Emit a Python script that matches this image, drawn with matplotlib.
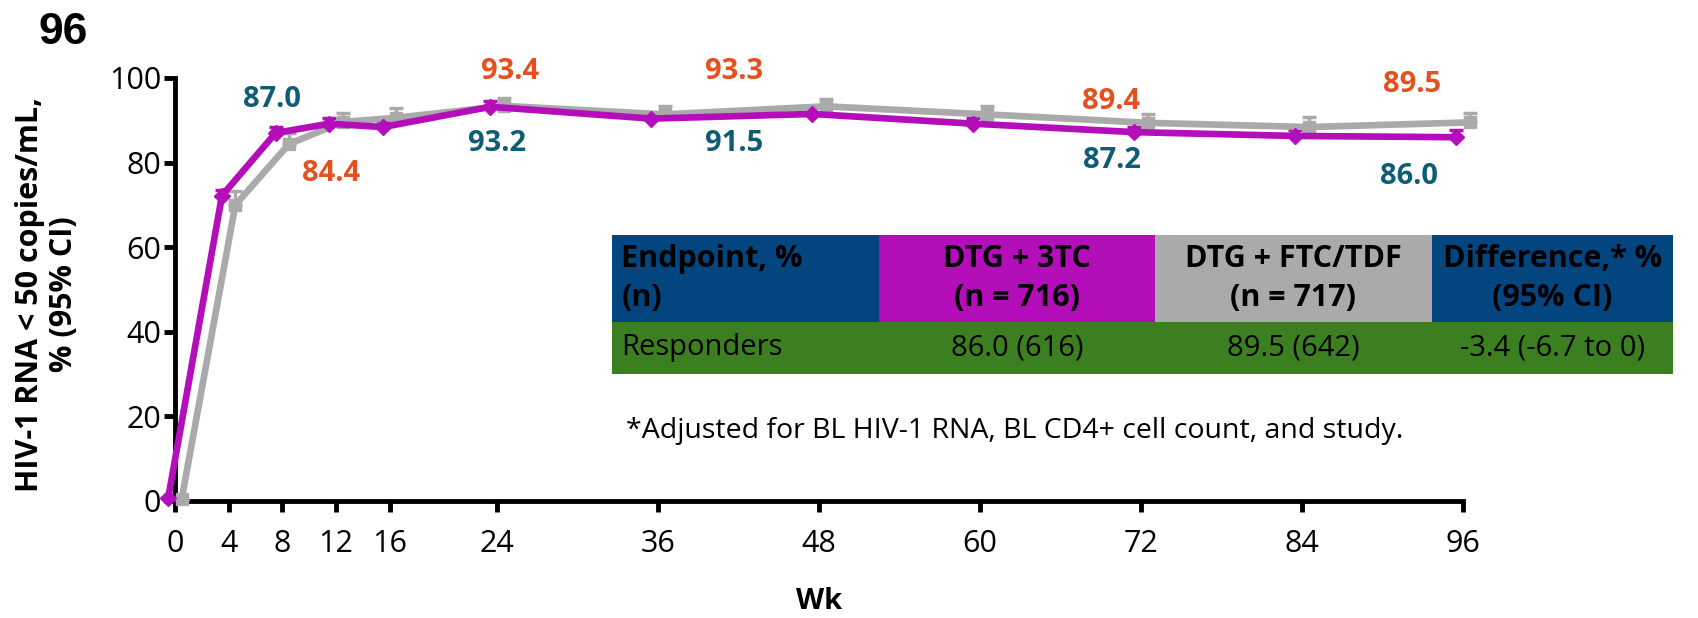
import numpy as np
import matplotlib
matplotlib.use("Agg")
from matplotlib import pyplot as plt

weeks = [0, 4, 8, 12, 16, 24, 36, 48, 60, 72, 84, 96]
dtg_3tc = [0.8, 72.2, 87.0, 89.2, 88.4, 93.2, 90.4, 91.5, 89.2, 87.2, 86.3, 86.0]
dtg_3tc_ci = [0.0, 1.3, 1.3, 1.3, 1.3, 1.3, 1.3, 1.3, 1.3, 1.3, 1.3, 1.6]
dtg_ftc = [0.5, 70.0, 84.4, 89.6, 90.6, 93.4, 91.4, 93.3, 91.4, 89.4, 88.4, 89.5]
dtg_ftc_ci = [0.0, 3.3, 2.6, 2.2, 2.2, 1.8, 2.0, 1.8, 2.0, 2.2, 2.3, 2.2]

# weeks that carry value labels
label_weeks = [8, 24, 48, 72, 96]

header = ["Endpoint, %\n(n)", "DTG + 3TC\n(n = 716)", "DTG + FTC/TDF\n(n = 717)", "Difference,* %\n(95% CI)"]
row = ["Responders", "86.0 (616)", "89.5 (642)", "-3.4 (-6.7 to 0)"]
footnote = "*Adjusted for BL HIV-1 RNA, BL CD4+ cell count, and study."

MAG = "#B40DBA"
GRAY = "#AAAAAA"
TEAL = "#0F5C75"
ORANGE = "#E4501E"
BLUE = "#03457F"
GREEN = "#3B7F20"

NARROW = ["Open Sans", "DejaVu Sans"]
BOLD = ["Open Sans", "DejaVu Sans"]

fig = plt.figure(figsize=(16.98, 6.18), dpi=100)
ax = fig.add_axes([175 / 1698, 1 - 501 / 618, (1463 - 175) / 1698, (501 - 78) / 618])

w = np.array(weeks, dtype=float)
ax.errorbar(w - 0.5, dtg_3tc, yerr=[np.zeros(len(w)), dtg_3tc_ci], fmt="none",
            ecolor=MAG, elinewidth=2.5, capsize=5, capthick=2.5, zorder=2, clip_on=False)
ax.errorbar(w + 0.5, dtg_ftc, yerr=[np.zeros(len(w)), dtg_ftc_ci], fmt="none",
            ecolor=GRAY, elinewidth=2.5, capsize=5, capthick=2.5, zorder=3, clip_on=False)
ax.plot(w + 0.5, dtg_ftc, color=GRAY, lw=4.8, marker="s", ms=9, zorder=4, clip_on=False)
ax.plot(w - 0.5, dtg_3tc, color=MAG, lw=4.8, marker="D", ms=8, zorder=5, clip_on=False)

# value labels
ftc_pos = {8: (11.6, 77.5), 24: (25.0, 101.5), 48: (41.7, 101.5), 72: (69.8, 94.4), 96: (92.2, 98.5)}
tc_pos = {8: (7.2, 94.9), 24: (24.0, 84.4), 48: (41.7, 84.4), 72: (69.8, 80.6), 96: (92.0, 76.7)}
for wk in label_weeks:
    i = weeks.index(wk)
    x, y = ftc_pos[wk]
    ax.text(x, y, f"{dtg_ftc[i]:.1f}", color=ORANGE, fontsize=21, fontweight="bold",
            family=BOLD, ha="center", va="center", clip_on=False)
    x, y = tc_pos[wk]
    ax.text(x, y, f"{dtg_3tc[i]:.1f}", color=TEAL, fontsize=21, fontweight="bold",
            family=BOLD, ha="center", va="center", clip_on=False)

ax.set_xlim(0, 96)
ax.set_ylim(0, 100)
ax.set_xticks(weeks)
ax.set_yticks(range(0, 101, 20))
for s in ["top", "right"]:
    ax.spines[s].set_visible(False)
for s in ["left", "bottom"]:
    ax.spines[s].set_linewidth(3.5)
ax.tick_params(axis="both", width=3.5, length=8, labelsize=22, pad=2)
ax.tick_params(axis="x", pad=12)
for lab in ax.get_xticklabels() + ax.get_yticklabels():
    lab.set_family(NARROW)

ax.set_xlabel("Wk", fontsize=21, fontweight="bold", family=NARROW, labelpad=20)
fig.text(47 / 1698, 1 - 294 / 618, "HIV-1 RNA < 50 copies/mL,\n% (95% CI)", fontsize=22,
         fontweight="bold", family=BOLD, rotation=90, ha="center", va="center",
         multialignment="center", linespacing=1.15)

fig.text(38 / 1698, 1 - 33 / 618, "96", fontsize=32, fontweight="bold",
         family=["Liberation Sans", "DejaVu Sans"], ha="left", va="center")

# table
tax = fig.add_axes([612 / 1698, 1 - 374 / 618, (1673 - 612) / 1698, (374 - 235) / 618])
tax.axis("off")
col_w = [267, 276, 277, 241]
col_w = [c / sum(col_w) for c in col_w]
head_colors = [BLUE, MAG, GRAY, BLUE]
tbl = tax.table(cellText=[header, row], cellColours=[head_colors, [GREEN] * 4],
                colWidths=col_w, bbox=[0, 0, 1, 1], cellLoc="center")
tbl.auto_set_font_size(False)
h_head, h_row = 87 / 139, 52 / 139
for (r, c), cell in tbl.get_celld().items():
    cell.set_edgecolor("none")
    cell.set_linewidth(0)
    cell.set_height(h_head if r == 0 else h_row)
    t = cell.get_text()
    t.set_fontsize(22 if r == 0 else 21)
    t.set_family(NARROW)
    t.set_color("black")
    t.set_linespacing(1.4)
    if r == 0:
        t.set_fontweight("bold")
    if c == 0:
        t.set_ha("left")
        cell.PAD = 0.035

fig.text(626 / 1698, 1 - 431 / 618, footnote, fontsize=20.5, family=NARROW,
         ha="left", va="center")

fig.savefig("out.png", dpi=100)
